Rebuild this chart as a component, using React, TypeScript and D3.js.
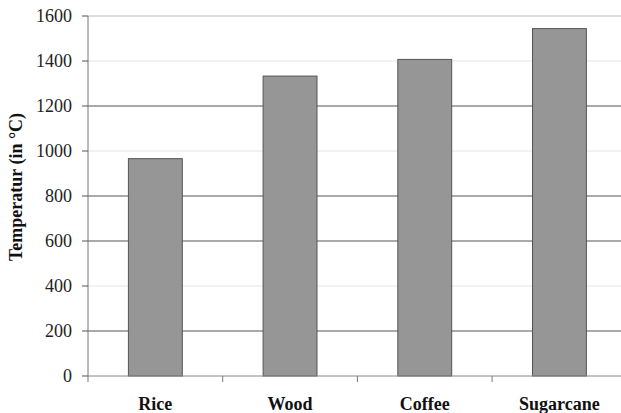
import React from "react";
import * as d3 from "d3";

const categories = ["Rice", "Wood", "Coffee", "Sugarcane"];
const values = [966, 1333, 1407, 1544];
const yTicks = [0, 200, 400, 600, 800, 1000, 1200, 1400, 1600];
const lightGrid = [1400, 1000, 400];
const yTitle = "Temperatur (in °C)";

export default function App() {
  const W = 621, H = 413;
  const left = 88, top = 16, bottom = 376;
  const bandW = 134.7;
  const x = d3.scaleBand<string>().domain(categories).range([left, left + bandW * 4]).paddingInner(0).paddingOuter(0);
  const y = d3.scaleLinear().domain([0, 1600]).range([bottom, top]);
  const barW = x.bandwidth() * 0.4;
  const serif = "'Liberation Serif', 'Times New Roman', serif";
  return (
    <svg width={W} height={H} style={{ position: "absolute", left: 0, top: 0, background: "#fff" }}>
      {yTicks.filter(t => t > 0).map(t => (
        <line key={"g" + t} x1={left} x2={W} y1={y(t)} y2={y(t)}
          stroke={t === 1600 ? "#bbb" : lightGrid.includes(t) ? "#e4e4e4" : "#555"} strokeWidth={1} />
      ))}
      {categories.map((c, i) => (
        <rect key={c} x={(x(c) as number) + (x.bandwidth() - barW) / 2} y={y(values[i])}
          width={barW} height={bottom - y(values[i])} fill="#969696" stroke="#555" strokeWidth={1} />
      ))}
      <line x1={left} x2={left} y1={top} y2={bottom} stroke="#777" />
      <line x1={left} x2={W} y1={bottom} y2={bottom} stroke="#888" />
      {yTicks.map(t => (
        <g key={"t" + t}>
          <line x1={left - 6} x2={left} y1={y(t)} y2={y(t)} stroke="#555" />
          <text x={72} y={y(t)} dy="0.35em" textAnchor="end" fontFamily={serif} fontSize={18} fill="#222">{t}</text>
        </g>
      ))}
      {categories.map((c, i) => (
        <g key={"x" + c}>
          <line x1={(x(c) as number)} x2={(x(c) as number)} y1={bottom} y2={bottom + 6} stroke="#777" />
          <text x={(x(c) as number) + x.bandwidth() / 2} y={410} textAnchor="middle" fontFamily={serif}
            fontWeight="bold" fontSize={18} fill="#111">{c}</text>
        </g>
      ))}
      <text transform={`translate(22, 187) rotate(-90)`} textAnchor="middle" fontFamily={serif}
        fontWeight="bold" fontSize={18} fill="#111">{yTitle}</text>
    </svg>
  );
}
